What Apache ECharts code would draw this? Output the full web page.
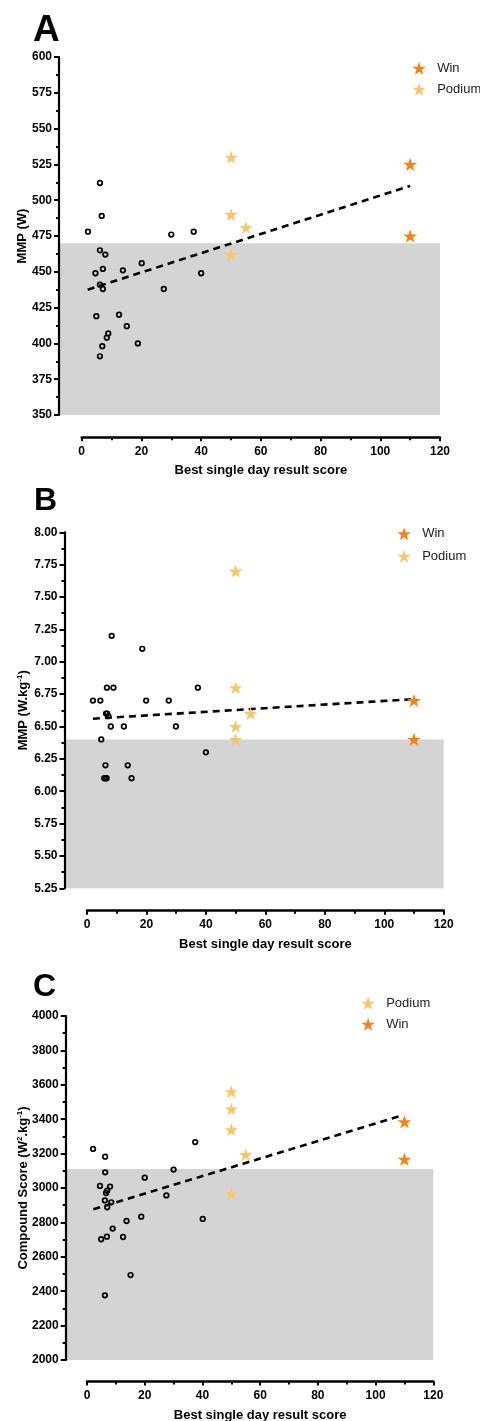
<!DOCTYPE html>
<html>
<head>
<meta charset="utf-8">
<script src="https://cdn.jsdelivr.net/npm/echarts@6/dist/echarts.min.js"></script>
<style>
html,body{margin:0;padding:0;background:#fff;}
#c{width:480px;height:1421px;}
</style>
</head>
<body>
<div id="c"></div>
<script>
// ---------- Panel A: MMP (W) ----------
var aRiderX = [2.1, 6.1, 6.7, 6.1, 7.9, 7.1, 4.6, 6.1, 7.1, 13.8, 20.1, 27.5, 30.0, 37.5, 40.0, 4.9, 12.5, 15.1, 8.9, 8.4, 6.9, 6.1, 18.8];
var aRiderY = [478, 512, 489, 465, 462, 452, 449, 441, 438, 451, 456, 438, 476, 478, 449, 419, 420, 412, 407, 404, 398, 391, 400];
var aPodiumX = [50, 50, 55, 50];
var aPodiumY = [530, 490, 481, 462];
var aWinX = [110, 110];
var aWinY = [525, 475];
var aTrendX = [2, 110];
var aTrendY = [437.5, 510];
var aShadeTop = 470;

// ---------- Panel B: MMP (W.kg-1) ----------
var bRiderX = [2.0, 4.5, 4.8, 8.3, 6.7, 8.9, 6.4, 6.8, 7.2, 8.0, 12.4, 6.2, 13.7, 5.8, 6.3, 6.6, 15.0, 18.6, 19.9, 27.5, 29.9, 37.3, 40.0];
var bRiderY = [6.70, 6.70, 6.40, 7.20, 6.80, 6.80, 6.60, 6.60, 6.58, 6.50, 6.50, 6.20, 6.20, 6.10, 6.10, 6.10, 6.10, 7.10, 6.70, 6.70, 6.50, 6.80, 6.30];
var bPodiumX = [50, 50, 50, 50, 55];
var bPodiumY = [7.70, 6.80, 6.50, 6.40, 6.60];
var bWinX = [110, 110];
var bWinY = [6.70, 6.40];
var bTrendX = [2, 109];
var bTrendY = [6.56, 6.71];
var bShadeTop = 6.40;

// ---------- Panel C: Compound Score ----------
var cRiderX = [2.1, 6.3, 6.3, 4.5, 8.0, 7.0, 6.6, 6.2, 8.4, 7.0, 8.9, 13.7, 4.9, 6.9, 12.5, 18.8, 20.0, 27.5, 30.0, 37.5, 40.1, 6.2, 15.1];
var cRiderY = [3227, 3182, 3091, 3012, 3008, 2984, 2971, 2928, 2917, 2888, 2764, 2808, 2702, 2717, 2715, 2833, 3060, 2957, 3107, 3267, 2820, 2376, 2494];
var cPodiumX = [50, 50, 50, 55, 50];
var cPodiumY = [3560, 3459, 3339, 3194, 2967];
var cWinX = [110, 110];
var cWinY = [3385, 3167];
var cTrendX = [2.2, 108.5];
var cTrendY = [2876, 3419];
var cShadeTop = 3110;

// ---------- Axis settings ----------
var xTitle = 'Best single day result score';
var yTitleA = '{b|MMP (W)}';
var yTitleB = '{b|MMP (W.kg}{s|-1}{b|)}';
var yTitleC = '{b|Compound Score (W}{s|2}{b|.kg}{s|-1}{b|)}';
var yRangeA = [350, 600, 25];
var yRangeB = [5.25, 8.00, 0.25];
var yRangeC = [2000, 4000, 200];
var xRange = [0, 120, 20];

function pairs(xs, ys) { return xs.map(function (x, i) { return [x, ys[i]]; }); }

var FONT = '"Liberation Sans", Arial, Helvetica, sans-serif';
var WIN_COLOR = '#F8820F';
var POD_COLOR = '#FCC564';
var GREY = '#D4D4D4';
var STAR = 'path://M0,-1L0.2245,-0.309L0.9511,-0.309L0.3633,0.118L0.5878,0.809L0,0.382L-0.5878,0.809L-0.3633,0.118L-0.9511,-0.309L-0.2245,-0.309Z';

// panel geometry (pixels)
var panels = [
  { dataLeft: 59, dataTop: 57, dataH: 358, x0: 81.7, x120: 440, axisY: 437.3, yRange: yRangeA, yName: yTitleA, nameGapY: 29, dec: 0 },
  { dataLeft: 64.5, dataTop: 532.3, dataH: 356, x0: 87, x120: 443.7, axisY: 910.7, yRange: yRangeB, yName: yTitleB, nameGapY: 33, dec: 2 },
  { dataLeft: 65.7, dataTop: 1016, dataH: 344, x0: 87, x120: 433.3, axisY: 1382.3, yRange: yRangeC, yName: yTitleC, nameGapY: 34, dec: 0 }
];

var grids = [], xAxes = [], yAxes = [];
panels.forEach(function (p, i) {
  var scale = (p.x120 - p.x0) / (xRange[1] - xRange[0]);
  var xmin = -(p.x0 - p.dataLeft) / scale;
  grids.push({ left: p.dataLeft, top: p.dataTop, width: p.x120 - p.dataLeft, height: p.dataH });
  xAxes.push({ gridIndex: 2 * i, type: 'value', min: xmin, max: xRange[1], show: false, axisLine: { onZero: false } });
  yAxes.push({
    gridIndex: 2 * i, type: 'value', min: p.yRange[0], max: p.yRange[1], interval: p.yRange[2], z: 10,
    position: 'left',
    name: p.yName, nameLocation: 'middle', nameGap: p.nameGapY, nameRotate: 90, nameMoveOverlap: false,
    nameTextStyle: {
      rich: {
        b: { fontFamily: FONT, fontWeight: 'bold', fontSize: 13, color: '#000', lineHeight: 16 },
        s: { fontFamily: FONT, fontWeight: 'bold', fontSize: 8, color: '#000', lineHeight: 8, verticalAlign: 'top' }
      }
    },
    axisLine: { show: true, onZero: false, lineStyle: { color: '#000', width: 2.2 } },
    axisTick: { show: true, inside: false, length: 5, lineStyle: { color: '#000', width: 2 } },
    minorTick: { show: true, splitNumber: 2, length: 3, lineStyle: { color: '#000', width: 2 } },
    splitLine: { show: false },
    axisLabel: {
      margin: 7, fontFamily: FONT, fontWeight: 'bold', fontSize: 12, color: '#000',
      formatter: (function (d) { return function (v) { return v.toFixed(d); }; })(p.dec)
    }
  });
  grids.push({ left: p.x0, top: p.axisY - 1, width: p.x120 - p.x0, height: 1 });
  xAxes.push({
    gridIndex: 2 * i + 1, type: 'value', min: xRange[0], max: xRange[1], interval: xRange[2], z: 10,
    name: xTitle, nameLocation: 'middle', nameGap: 27, nameMoveOverlap: false,
    nameTextStyle: { fontFamily: FONT, fontWeight: 'bold', fontSize: 13, color: '#000' },
    axisLine: { show: true, onZero: false, lineStyle: { color: '#000', width: 2.5 } },
    axisTick: { show: true, inside: false, length: 4, lineStyle: { color: '#000', width: 2 } },
    minorTick: { show: true, splitNumber: 2, length: 3, lineStyle: { color: '#000', width: 2 } },
    splitLine: { show: false },
    axisLabel: { margin: 8, fontFamily: FONT, fontWeight: 'bold', fontSize: 12, color: '#000' }
  });
  yAxes.push({ gridIndex: 2 * i + 1, type: 'value', min: 0, max: 1, show: false, axisLine: { onZero: false } });
});

var sets = [
  { r: pairs(aRiderX, aRiderY), p: pairs(aPodiumX, aPodiumY), w: pairs(aWinX, aWinY), t: pairs(aTrendX, aTrendY), shade: [yRangeA[0], aShadeTop] },
  { r: pairs(bRiderX, bRiderY), p: pairs(bPodiumX, bPodiumY), w: pairs(bWinX, bWinY), t: pairs(bTrendX, bTrendY), shade: [yRangeB[0], bShadeTop] },
  { r: pairs(cRiderX, cRiderY), p: pairs(cPodiumX, cPodiumY), w: pairs(cWinX, cWinY), t: pairs(cTrendX, cTrendY), shade: [yRangeC[0], cShadeTop] }
];

var series = [];
sets.forEach(function (s, i) {
  var xi = 2 * i, yi = 2 * i;
  series.push({
    name: 'Riders', type: 'scatter', xAxisIndex: xi, yAxisIndex: yi, data: s.r,
    symbol: 'circle', symbolSize: 4.6, z: 3,
    itemStyle: { color: 'rgba(0,0,0,0)', borderColor: '#000', borderWidth: 1.7, opacity: 1 },
    markArea: {
      silent: true, z: 1,
      itemStyle: { color: GREY, opacity: 1 },
      data: [[{ yAxis: s.shade[0] }, { yAxis: s.shade[1] }]]
    }
  });
  series.push({
    name: 'Trend', type: 'line', xAxisIndex: xi, yAxisIndex: yi, data: s.t,
    showSymbol: false, symbol: 'none', z: 4,
    lineStyle: { color: '#000', width: 2.6, type: [7, 5] }
  });
  series.push({
    name: 'Podium', type: 'scatter', xAxisIndex: xi, yAxisIndex: yi, data: s.p,
    symbol: STAR, symbolKeepAspect: true, symbolSize: 13.5, z: 5, itemStyle: { color: POD_COLOR, opacity: 1 }
  });
  series.push({
    name: 'Win', type: 'scatter', xAxisIndex: xi, yAxisIndex: yi, data: s.w,
    symbol: STAR, symbolKeepAspect: true, symbolSize: 14, z: 5, itemStyle: { color: WIN_COLOR, opacity: 1 }
  });
});

function legend(starCx, firstCy, names, gap) {
  return {
    orient: 'vertical', left: starCx - 7, top: firstCy - 6.5,
    data: names.map(function (n) { return { name: n, icon: STAR }; }),
    itemWidth: 14, itemHeight: 13, itemGap: gap, padding: 0, selectedMode: false,
    textStyle: { fontFamily: FONT, fontSize: 13, color: '#222', lineHeight: 13, padding: [0, 0, 0, 6] }
  };
}

var option = {
  animation: false,
  backgroundColor: '#fff',
  grid: grids,
  xAxis: xAxes,
  yAxis: yAxes,
  legend: [
    legend(419.3, 68.3, ['Win', 'Podium'], 8),
    legend(404.3, 533.7, ['Win', 'Podium'], 9.6),
    legend(368.3, 1003.3, ['Podium', 'Win'], 8)
  ],
  graphic: [
    { type: 'text', left: 33, top: 12, style: { text: 'A', font: 'bold 37px ' + FONT, fill: '#000' } },
    { type: 'text', left: 34, top: 485, style: { text: 'B', font: 'bold 32px ' + FONT, fill: '#000' } },
    { type: 'text', left: 33, top: 971, style: { text: 'C', font: 'bold 32px ' + FONT, fill: '#000' } }
  ],
  series: series
};

var chart = echarts.init(document.getElementById('c'), null, { renderer: 'canvas' });
chart.setOption(option);
</script>
</body>
</html>
